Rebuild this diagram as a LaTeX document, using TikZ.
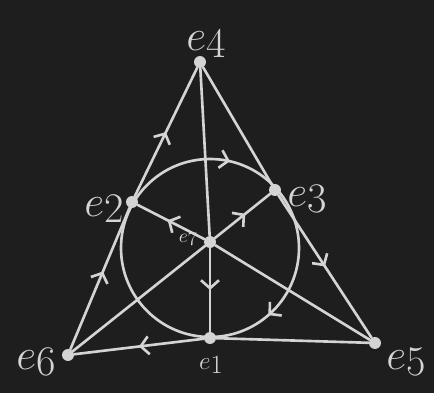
\documentclass[tikz,border=0pt]{standalone}
\usepackage{tikz}
\usetikzlibrary{arrows.meta,decorations.markings}
\definecolor{board}{HTML}{1E1E1E}
\definecolor{chalk}{HTML}{D4D4D4}
\newcommand{\elab}[1]{$e$\raisebox{-0.35ex}{#1}}
\tikzset{
  chalkline/.style={draw=chalk,line width=1.5pt,line cap=round},
  dirline/.style={chalkline,postaction={decorate},
                  decoration={markings,mark=at position #1 with {\arrow{Straight Barb[length=1.6mm,width=3.6mm]}}}},
  dirline/.default=0.5,
  vertex/.style={circle,fill=chalk,inner sep=0pt,minimum size=2.4mm},
  biglab/.style={text=chalk,inner sep=1pt,font=\fontsize{24}{26}\selectfont},
  smlab/.style={text=chalk,inner sep=1pt,font=\fontsize{11}{12}\selectfont},
  midlab/.style={text=chalk,inner sep=1pt,font=\fontsize{15}{16}\selectfont}
}

\begin{document}
\begin{tikzpicture}[x=0.02cm,y=0.02cm]
  \fill[board] (0,0) rectangle (434,393);
  \useasboundingbox (0,0) rectangle (434,393);

  % points of the plane
  \node[vertex] (e4) at (200,331) {};
  \node[vertex] (e2) at (132,191) {};
  \node[vertex] (e3) at (275,203) {};
  \node[vertex] (e7) at (210,151) {};
  \node[vertex] (e6) at (68,38) {};
  \node[vertex] (e1) at (210,55) {};
  \node[vertex] (e5) at (375,50) {};
  \coordinate (ctr) at (210,145);

  % labels
  \node[biglab] (l4) at (206,350) {\elab{4}};
  \node[biglab] (l2) at (104,184) {\elab{2}};
  \node[biglab] (l3) at (307,194) {\elab{3}};
  \node[smlab]  (l7) at (188,154) {\elab{7}};
  \node[biglab] (l6) at (36,31) {\elab{6}};
  \node[midlab] (l1) at (211,28) {\elab{1}};
  \node[biglab] (l5) at (406,31) {\elab{5}};

  % sides of the triangle
  \draw[dirline=0.55] (e6) -- (e2);
  \draw[dirline] (e2) -- (e4);
  \draw[chalkline] (e4) -- (e3);
  \draw[dirline] (e3) -- (e5);
  \draw[chalkline] (e5) -- (e1);
  \draw[dirline] (e1) -- (e6);

  % lines through the centre
  \draw[chalkline] (e4) -- (e7);
  \draw[dirline] (e7) -- (e1);
  \draw[chalkline] (e5) -- (e7);
  \draw[dirline=0.55] (e7) -- (e2);
  \draw[chalkline] (e6) -- (e7);
  \draw[dirline=0.55] (e7) -- (e3);

  % the circle
  \draw[chalkline,postaction={decorate},
        decoration={markings,
          mark=at position 0.214 with {\arrowreversed{Straight Barb[length=1.6mm,width=3.6mm]}},
          mark=at position 0.864 with {\arrowreversed{Straight Barb[length=1.6mm,width=3.6mm]}}}]
    (ctr) circle[radius=89];
\end{tikzpicture}
\end{document}
